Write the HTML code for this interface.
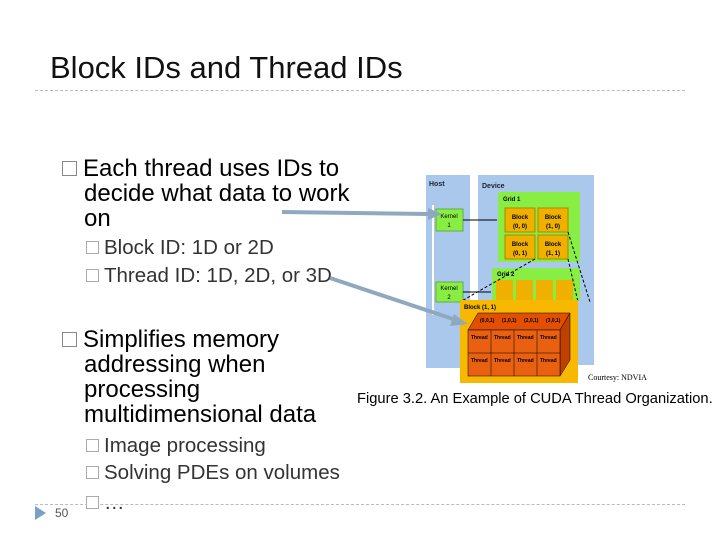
<!DOCTYPE html>
<html><head><meta charset="utf-8"><style>
body{margin:0;width:720px;height:540px;background:#fff;position:relative;overflow:hidden;font-family:"Liberation Sans",sans-serif}
.a{position:absolute;white-space:nowrap}
.t{font-size:24px;color:#000;line-height:25px}
.s{font-size:20.5px;color:#333;line-height:28px}
.bx{display:inline-block;border:1px solid #888;background:#fff}
</style></head><body>
<div class="a" style="left:50px;top:50px;font-size:31px;color:#111">Block IDs and Thread IDs</div>
<div class="a" style="left:35px;top:90px;width:650px;border-top:1px dashed #bbb"></div>
<div class="a" style="left:35px;top:504px;width:650px;border-top:1px dashed #bbb"></div>

<div class="a t" style="left:62px;top:156px"><span class="bx" style="width:13px;height:13px;margin-right:6px"></span>Each thread uses IDs to</div>
<div class="a t" style="left:84px;top:181px">decide what data to work</div>
<div class="a t" style="left:84px;top:206px">on</div>
<div class="a s" style="left:86px;top:234px"><span class="bx" style="width:11px;height:11px;margin-right:5px;border-color:#aaa"></span>Block ID: 1D or 2D</div>
<div class="a s" style="left:86px;top:262px"><span class="bx" style="width:11px;height:11px;margin-right:5px;border-color:#aaa"></span>Thread ID: 1D, 2D, or 3D</div>

<div class="a t" style="left:62px;top:327px"><span class="bx" style="width:13px;height:13px;margin-right:6px"></span>Simplifies memory</div>
<div class="a t" style="left:84px;top:352px">addressing when</div>
<div class="a t" style="left:84px;top:377px">processing</div>
<div class="a t" style="left:84px;top:402px">multidimensional data</div>
<div class="a s" style="left:86px;top:432px"><span class="bx" style="width:11px;height:11px;margin-right:5px;border-color:#aaa"></span>Image processing</div>
<div class="a s" style="left:86px;top:459px"><span class="bx" style="width:11px;height:11px;margin-right:5px;border-color:#aaa"></span>Solving PDEs on volumes</div>
<div class="a s" style="left:86px;top:489px"><span class="bx" style="width:11px;height:11px;margin-right:5px;border-color:#aaa"></span>…</div>
<div class="a" style="left:35px;top:506px;width:0;height:0;border-left:11px solid #7aa0c8;border-top:7px solid transparent;border-bottom:7px solid transparent"></div>
<div class="a" style="left:55px;top:506px;font-size:12px;color:#555">50</div>

<svg class="a" style="left:0;top:0" width="720" height="540">
<rect x="426" y="175" width="44" height="193" fill="#a9c8ec"/>
<line x1="433" y1="205" x2="433" y2="315" stroke="#fff" stroke-width="2"/>
<rect x="478" y="175" width="116" height="190" fill="#a9c8ec"/>
<text x="429" y="186" font-size="7" font-weight="bold" fill="#223">Host</text>
<text x="482" y="188" font-size="7" font-weight="bold" fill="#223">Device</text>
<rect x="436" y="209" width="27" height="22" fill="#88ee44" stroke="#6a4"/>
<text x="449" y="218" font-size="6" text-anchor="middle">Kernel</text><text x="449" y="227" font-size="6" text-anchor="middle">1</text>
<rect x="436" y="282" width="27" height="20" fill="#88ee44" stroke="#6a4"/>
<text x="449" y="290" font-size="6" text-anchor="middle">Kernel</text><text x="449" y="299" font-size="6" text-anchor="middle">2</text>
<rect x="498" y="192" width="82" height="70" fill="#88ee44"/>
<text x="503" y="201" font-size="6" font-weight="bold">Grid 1</text>
<rect x="505" y="208" width="30" height="24" fill="#f0b000" stroke="#a80"/>
<rect x="538" y="208" width="30" height="24" fill="#f0b000" stroke="#a80"/>
<rect x="505" y="235" width="30" height="24" fill="#f0b000" stroke="#a80"/>
<rect x="538" y="235" width="30" height="24" fill="#f0b000" stroke="#a80"/>
<g font-size="6" text-anchor="middle" font-weight="bold"><text x="520" y="219">Block</text><text x="520" y="228">(0, 0)</text><text x="553" y="219">Block</text><text x="553" y="228">(1, 0)</text><text x="520" y="246">Block</text><text x="520" y="255">(0, 1)</text><text x="553" y="246">Block</text><text x="553" y="255">(1, 1)</text></g>
<rect x="492" y="268" width="88" height="32" fill="#88ee44"/>
<text x="497" y="276" font-size="6" font-weight="bold">Grid 2</text>
<rect x="496" y="280" width="17" height="20" fill="#f0b000"/><rect x="516" y="280" width="17" height="20" fill="#f0b000"/><rect x="536" y="280" width="17" height="20" fill="#f0b000"/><rect x="556" y="280" width="17" height="20" fill="#f0b000"/>
<line x1="463" y1="220" x2="497" y2="220" stroke="#000"/><line x1="463" y1="292" x2="491" y2="292" stroke="#000"/>
<g stroke="#000" stroke-dasharray="3,2"><line x1="535" y1="259" x2="460" y2="302"/><line x1="568" y1="259" x2="578" y2="302"/><line x1="568" y1="232" x2="590" y2="302"/></g>
<rect x="460" y="300" width="118" height="83" fill="#f8b800"/>
<text x="464" y="309" font-size="6" font-weight="bold">Block (1, 1)</text>
<polygon points="468,330 478,313 570,313 560,330" fill="#e05000" stroke="#000" stroke-width=".5"/>
<polygon points="560,330 570,313 570,360 560,376" fill="#c04000" stroke="#000" stroke-width=".5"/>
<rect x="468" y="330" width="92" height="46" fill="#e86010" stroke="#000" stroke-width=".5"/>
<g stroke="#000" stroke-width=".5"><line x1="491" y1="330" x2="491" y2="376"/><line x1="514" y1="330" x2="514" y2="376"/><line x1="537" y1="330" x2="537" y2="376"/><line x1="468" y1="353" x2="560" y2="353"/></g>
<g font-size="5" font-weight="bold"><text x="471" y="339">Thread</text><text x="494" y="339">Thread</text><text x="517" y="339">Thread</text><text x="540" y="339">Thread</text><text x="471" y="362">Thread</text><text x="494" y="362">Thread</text><text x="517" y="362">Thread</text><text x="540" y="362">Thread</text>
<text x="480" y="322">(0,0,1)</text><text x="502" y="322">(1,0,1)</text><text x="524" y="322">(2,0,1)</text><text x="546" y="322">(3,0,1)</text></g>
<line x1="282" y1="212" x2="428" y2="214" stroke="#8fa8c0" stroke-width="4"/>
<polygon points="428,208 442,214 428,220" fill="#8fa8c0"/>
<line x1="330" y1="278" x2="456" y2="320" stroke="#8fa8c0" stroke-width="4"/>
<polygon points="454,314 468,324 450,326" fill="#8fa8c0"/>
<text x="588" y="380" font-size="8" font-family="Liberation Serif">Courtesy: NDVIA</text>
<text x="357" y="403" font-size="14.7">Figure 3.2. An Example of CUDA Thread Organization.</text>
</svg>
</body></html>
